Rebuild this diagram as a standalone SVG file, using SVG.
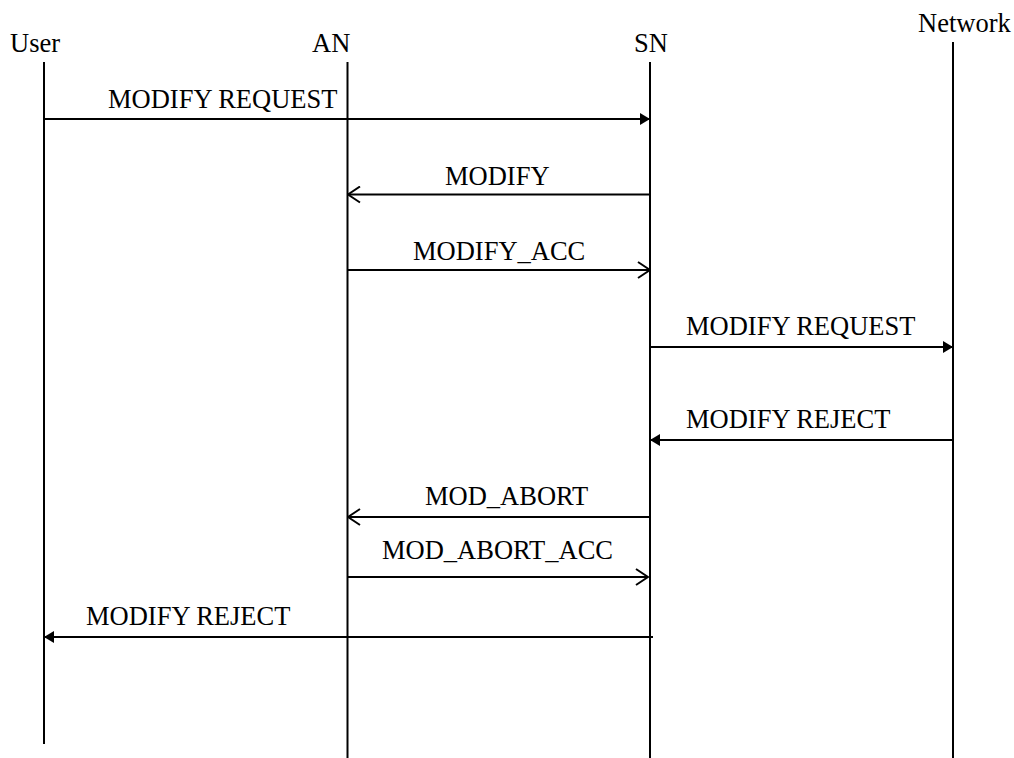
<svg xmlns="http://www.w3.org/2000/svg" width="1014" height="758" viewBox="0 0 1014 758">
<style>
text{font-family:"Liberation Serif","Times New Roman",serif;font-size:26.5px;fill:#000}
.life{stroke:#000;stroke-width:2;fill:none}
.msg{stroke:#000;stroke-width:2;fill:none}
</style>
<defs>
<marker id="filled" viewBox="0 0 10 12" refX="10" refY="6" markerWidth="10" markerHeight="12" markerUnits="userSpaceOnUse" orient="auto">
<path d="M0,0 L10,6 L0,12 Z" fill="#000"/>
</marker>
<marker id="open" viewBox="0 0 14 18" refX="13" refY="9" markerWidth="14" markerHeight="18" markerUnits="userSpaceOnUse" orient="auto">
<path d="M1,1 L13,9 L1,17" fill="none" stroke="#000" stroke-width="2"/>
</marker>
</defs>
<rect width="1014" height="758" fill="#fff"/>
<g id="user"><text x="10" y="52">User</text><line class="life" x1="44" y1="62" x2="44" y2="744"/></g>
<g id="an"><text x="312" y="52">AN</text><line class="life" x1="347.5" y1="62" x2="347.5" y2="758"/></g>
<g id="sn"><text x="634" y="52">SN</text><line class="life" x1="650" y1="62" x2="650" y2="758"/></g>
<g id="network"><text x="918" y="32">Network</text><line class="life" x1="953" y1="42" x2="953" y2="758"/></g>
<g id="connectors">
<line class="msg" x1="44" y1="119" x2="650" y2="119" marker-end="url(#filled)"/>
<text x="108" y="108">MODIFY REQUEST</text>
<line class="msg" x1="650" y1="194.5" x2="348" y2="194.5" marker-end="url(#open)"/>
<text x="445" y="185">MODIFY</text>
<line class="msg" x1="347.5" y1="270" x2="650" y2="270" marker-end="url(#open)"/>
<text x="413" y="260">MODIFY_ACC</text>
<line class="msg" x1="650" y1="347" x2="953" y2="347" marker-end="url(#filled)"/>
<text x="686" y="335">MODIFY REQUEST</text>
<line class="msg" x1="953" y1="440" x2="650" y2="440" marker-end="url(#filled)"/>
<text x="686" y="428">MODIFY REJECT</text>
<line class="msg" x1="650" y1="517" x2="348" y2="517" marker-end="url(#open)"/>
<text x="425" y="505">MOD_ABORT</text>
<line class="msg" x1="347.5" y1="577" x2="648" y2="577" marker-end="url(#open)"/>
<text x="382" y="559">MOD_ABORT_ACC</text>
<line class="msg" x1="653" y1="637" x2="44" y2="637" marker-end="url(#filled)"/>
<text x="86" y="625">MODIFY REJECT</text>
</g>
</svg>
